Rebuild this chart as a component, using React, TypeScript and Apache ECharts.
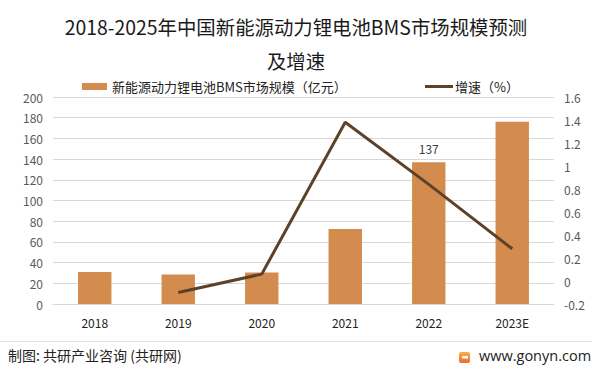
import React, { useEffect, useRef } from "react";
import * as echarts from "echarts";

const categories = ["2018", "2019", "2020", "2021", "2022", "2023E"];
const marketSize = [31, 28.5, 30.5, 72.5, 137, 176];
const growthRate = [null, -0.1, 0.06, 1.38, 0.84, 0.28];
const labeledIndex = 4;

const titleLine1 = "2018-2025年中国新能源动力锂电池BMS市场规模预测";
const titleLine2 = "及增速";
const barName = "新能源动力锂电池BMS市场规模（亿元）";
const lineName = "增速（%）";
const sourceText = "制图: 共研产业咨询 (共研网)";
const siteText = "www.gonyn.com";

const FONT = "'Noto Sans CJK SC', 'Noto Sans', sans-serif";

export default function App() {
  const ref = useRef<HTMLDivElement>(null);
  useEffect(() => {
    if (!ref.current) return;
    const chart = echarts.init(ref.current, null, { renderer: "svg" });
    const fmt = (v: number) => String(parseFloat(v.toFixed(1)));
    chart.setOption({
      animation: false,
      backgroundColor: "#ffffff",
      textStyle: { fontFamily: FONT },
      legend: [
        {
          data: [barName],
          left: 77,
          top: 75,
          itemWidth: 25,
          itemHeight: 7,
          itemGap: 4,
          icon: "rect",
          textStyle: { fontFamily: FONT, fontSize: 13, color: "#222" },
        },
        {
          data: [{ name: lineName, icon: "rect" }],
          left: 420,
          top: 75,
          itemWidth: 28,
          itemHeight: 3,
          textStyle: { fontFamily: FONT, fontSize: 13, color: "#222", padding: [0, 0, 0, -3] },
        },
      ],
      grid: { left: 53, right: 46, top: 97, bottom: 69, containLabel: false },
      xAxis: {
        type: "category",
        data: categories,
        axisTick: { show: false },
        axisLine: { lineStyle: { color: "#d9d9d9" } },
        axisLabel: { color: "#222", fontSize: 12, margin: 12, fontFamily: FONT },
      },
      yAxis: [
        {
          type: "value",
          min: 0,
          max: 200,
          interval: 20,
          axisLine: { show: false },
          axisTick: { show: false },
          splitLine: { lineStyle: { color: "#d9d9d9", width: 1 } },
          axisLabel: { color: "#595959", fontSize: 12, margin: 10, fontFamily: FONT },
        },
        {
          type: "value",
          min: -0.2,
          max: 1.6,
          interval: 0.2,
          axisLine: { show: false },
          axisTick: { show: false },
          splitLine: { show: false },
          axisLabel: {
            color: "#595959",
            fontSize: 12,
            margin: 10,
            fontFamily: FONT,
            formatter: fmt,
          },
        },
      ],
      series: [
        {
          name: barName,
          type: "bar",
          yAxisIndex: 0,
          barWidth: "40%",
          itemStyle: { color: "#d48c4e" },
          data: marketSize.map((v, i) =>
            i === labeledIndex
              ? {
                  value: v,
                  label: {
                    show: true,
                    position: "top",
                    distance: 8,
                    color: "#404040",
                    fontSize: 12,
                    fontFamily: FONT,
                  },
                }
              : v
          ),
        },
        {
          name: lineName,
          type: "line",
          yAxisIndex: 1,
          symbol: "none",
          connectNulls: false,
          itemStyle: { color: "#5e4129" },
          lineStyle: { color: "#5e4129", width: 3 },
          data: growthRate,
        },
      ],
      graphic: [
        {
          type: "text",
          x: 296,
          y: 26,
          style: {
            text: titleLine1,
            fontFamily: FONT,
            fontSize: 19.4,
            fill: "#1a1a1a",
            align: "center",
            verticalAlign: "middle",
          },
        },
        {
          type: "text",
          x: 296,
          y: 60,
          style: {
            text: titleLine2,
            fontFamily: FONT,
            fontSize: 19.4,
            fill: "#1a1a1a",
            align: "center",
            verticalAlign: "middle",
          },
        },
        {
          type: "line",
          shape: { x1: 0, y1: 341.5, x2: 592, y2: 341.5 },
          style: { stroke: "#e3e3e3", lineWidth: 1 },
        },
        {
          type: "text",
          left: 8,
          top: 348,
          style: { text: sourceText, fontFamily: FONT, fontSize: 14, fill: "#222" },
        },
        {
          type: "rect",
          shape: { x: 459, y: 352, width: 11, height: 11, r: 2 },
          style: {
            fill: new echarts.graphic.LinearGradient(0, 0, 0, 1, [
              { offset: 0, color: "#f7b24a" },
              { offset: 1, color: "#ef6a2c" },
            ]),
          },
        },
        {
          type: "rect",
          shape: { x: 462, y: 356, width: 6, height: 2.5 },
          style: { fill: "#ffffff" },
        },
        {
          type: "text",
          left: 479,
          top: 348,
          style: { text: siteText, fontFamily: "'Open Sans', 'DejaVu Sans', sans-serif", fontSize: 14.5, fill: "#222" },
        },
      ],
    });
    return () => chart.dispose();
  }, []);
  return <div ref={ref} style={{ width: 600, height: 373, position: "absolute", left: 0, top: 0 }} />;
}
